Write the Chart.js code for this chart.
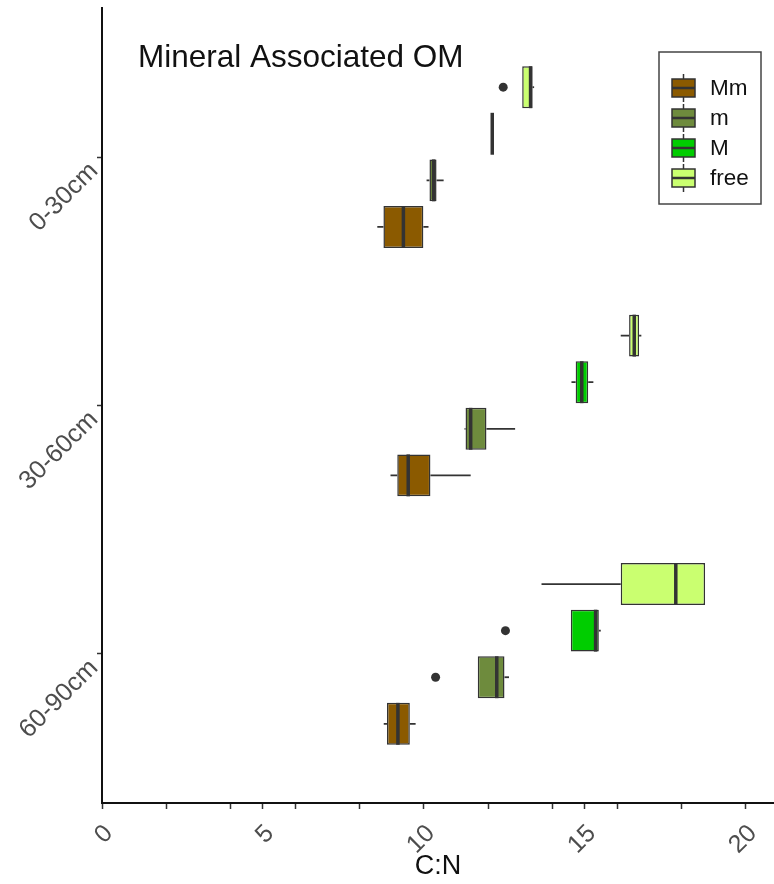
<!DOCTYPE html>
<html>
<head>
<meta charset="utf-8">
<script src="https://cdn.jsdelivr.net/npm/chart.js@4.4.1/dist/chart.umd.min.js"></script>
<style>
  html, body { margin: 0; padding: 0; background: #fff; }
  #wrap { position: relative; width: 774px; height: 884px; }
</style>
</head>
<body>
<div id="wrap"><canvas id="chart"></canvas></div>
<script>
// ---- data ----
const depths = ['0-30cm', '30-60cm', '60-90cm'];
const depthY = [3, 2, 1];
const fractions = ['Mm', 'm', 'M', 'free'];
const colors = ['#8B5A00', '#6E8B3D', '#00CD00', '#CAFF70'];

// per depth: [min, q1, median, q3, max]
const mmBox = [[8.55, 8.74, 9.36, 9.98, 10.14], [8.96, 9.17, 9.51, 10.20, 11.45], [8.75, 8.85, 9.19, 9.56, 9.74]];
const mBox = [[10.08, 10.17, 10.30, 10.39, 10.61], [11.26, 11.29, 11.45, 11.94, 12.83], [11.67, 11.67, 12.26, 12.50, 12.64]];
const bigMBox = [[12.12, 12.12, 12.12, 12.12, 12.12], [14.58, 14.71, 14.90, 15.10, 15.26], [14.56, 14.56, 15.33, 15.43, 15.49]];
const freeBox = [[13.05, 13.05, 13.31, 13.37, 13.42], [16.11, 16.37, 16.53, 16.68, 16.75], [13.65, 16.11, 17.82, 18.73, 18.73]];

const mmOut = [[], [], []];
const mOut = [[], [], [10.36]];
const bigMOut = [[], [], [12.53]];
const freeOut = [[12.46], [], []];

const xTicks = [0, 2, 4, 5, 6, 8, 10, 12, 14, 15, 16, 18, 20];

const FONT = "'Liberation Sans', Arial, Helvetica, sans-serif";
const INK = '#333333';

// datasets drawn top-to-bottom inside a group: free, M, m, Mm
const series = [
  { name: 'free', color: colors[3], box: freeBox, out: freeOut },
  { name: 'M', color: colors[2], box: bigMBox, out: bigMOut },
  { name: 'm', color: colors[1], box: mBox, out: mOut },
  { name: 'Mm', color: colors[0], box: mmBox, out: mmOut }
];

const datasets = series.map(s => ({
  label: s.name,
  data: depths.map((d, i) => ({ x: [s.box[i][1], s.box[i][3]], y: depthY[i] })),
  stats: s.box,
  outliers: s.out,
  backgroundColor: s.color,
  borderColor: INK,
  borderWidth: 1.5,
  borderSkipped: false,
  categoryPercentage: 0.75,
  barPercentage: 0.9
}));

// whiskers behind boxes, medians + outliers on top
const boxExtras = {
  id: 'boxExtras',
  beforeDatasetsDraw(chart) {
    const ctx = chart.ctx, xs = chart.scales.x;
    ctx.save();
    ctx.strokeStyle = INK;
    ctx.lineWidth = 1.8;
    chart.data.datasets.forEach((ds, di) => {
      chart.getDatasetMeta(di).data.forEach((el, i) => {
        const st = ds.stats[i];
        const y = el.y;
        ctx.beginPath();
        ctx.moveTo(xs.getPixelForValue(st[0]), y);
        ctx.lineTo(xs.getPixelForValue(st[1]), y);
        ctx.moveTo(xs.getPixelForValue(st[3]), y);
        ctx.lineTo(xs.getPixelForValue(st[4]), y);
        ctx.stroke();
      });
    });
    ctx.restore();
  },
  afterDatasetsDraw(chart) {
    const ctx = chart.ctx, xs = chart.scales.x;
    ctx.save();
    chart.data.datasets.forEach((ds, di) => {
      chart.getDatasetMeta(di).data.forEach((el, i) => {
        const st = ds.stats[i];
        const h = el.height;
        const mx = xs.getPixelForValue(st[2]);
        ctx.strokeStyle = INK;
        ctx.lineWidth = 3.5;
        ctx.beginPath();
        ctx.moveTo(mx, el.y - h / 2);
        ctx.lineTo(mx, el.y + h / 2);
        ctx.stroke();
        ctx.fillStyle = INK;
        ds.outliers[i].forEach(v => {
          ctx.beginPath();
          ctx.arc(xs.getPixelForValue(v), el.y, 4.5, 0, Math.PI * 2);
          ctx.fill();
        });
      });
    });
    ctx.restore();
  }
};

// title inside the panel and the boxed legend
const decorations = {
  id: 'decorations',
  afterDraw(chart) {
    const ctx = chart.ctx;
    ctx.save();
    ctx.fillStyle = '#111';
    ctx.font = '31.5px ' + FONT;
    ctx.textBaseline = 'alphabetic';
    ctx.textAlign = 'left';
    ctx.fillText('Mineral Associated OM', 138, 67);

    // legend frame
    ctx.strokeStyle = '#444';
    ctx.lineWidth = 1.5;
    ctx.strokeRect(659, 52, 102, 152);
    fractions.forEach((name, k) => {
      const cy = 88 + k * 30;
      const bx = 672, bw = 23, bh = 18;
      ctx.strokeStyle = INK;
      ctx.lineWidth = 1.5;
      ctx.beginPath();
      ctx.moveTo(bx + bw / 2, cy - bh / 2 - 5);
      ctx.lineTo(bx + bw / 2, cy + bh / 2 + 5);
      ctx.stroke();
      ctx.fillStyle = colors[k];
      ctx.fillRect(bx, cy - bh / 2, bw, bh);
      ctx.strokeRect(bx, cy - bh / 2, bw, bh);
      ctx.lineWidth = 2.5;
      ctx.beginPath();
      ctx.moveTo(bx, cy);
      ctx.lineTo(bx + bw, cy);
      ctx.stroke();
      ctx.fillStyle = '#111';
      ctx.font = '22.5px ' + FONT;
      ctx.textBaseline = 'middle';
      ctx.fillText(name, 710, cy + 1);
    });
    ctx.restore();
  }
};

new Chart(document.getElementById('chart'), {
  type: 'bar',
  data: { datasets },
  plugins: [boxExtras, decorations],
  options: {
    indexAxis: 'y',
    responsive: true,
    maintainAspectRatio: false,
    animation: false,
    layout: { padding: { top: 8, right: 0, left: 0, bottom: 0 } },
    plugins: { legend: { display: false }, tooltip: { enabled: false } },
    scales: {
      x: {
        type: 'linear',
        min: 0,
        max: 20.87,
        afterBuildTicks: (scale) => { scale.ticks = xTicks.map(v => ({ value: v })); },
        afterFit: (scale) => { scale.height = 81; scale.paddingLeft = 0; scale.paddingRight = 0; },
        ticks: {
          autoSkip: false,
          minRotation: 45,
          maxRotation: 45,
          labelOffset: 7,
          padding: 10,
          color: '#4d4d4d',
          font: { family: FONT, size: 25 },
          callback: (v) => (v % 5 === 0 ? String(v) : '')
        },
        grid: { drawOnChartArea: false, drawTicks: true, tickLength: 6, color: INK, tickWidth: 1.5 },
        border: { display: true, color: '#111', width: 2 },
        title: { display: true, text: 'C:N', color: '#111', font: { family: FONT, size: 27 }, padding: { top: 0, bottom: 1 } }
      },
      y: {
        type: 'linear',
        min: 0.4,
        max: 3.6,
        offset: false,
        afterBuildTicks: (scale) => { scale.ticks = depthY.map(v => ({ value: v })); },
        afterFit: (scale) => { scale.width = 102; scale.paddingTop = 0; scale.paddingBottom = 0; },
        ticks: {
          autoSkip: false,
          minRotation: 45,
          maxRotation: 45,
          padding: 3,
          labelOffset: 10,
          color: '#4d4d4d',
          font: { family: FONT, size: 25.5 },
          callback: (v) => depths[depthY.indexOf(v)] || ''
        },
        grid: { offset: false, drawOnChartArea: false, drawTicks: true, tickLength: 5, color: INK, tickWidth: 1.5 },
        border: { display: true, color: '#111', width: 2 }
      }
    }
  }
});
</script>
</body>
</html>
